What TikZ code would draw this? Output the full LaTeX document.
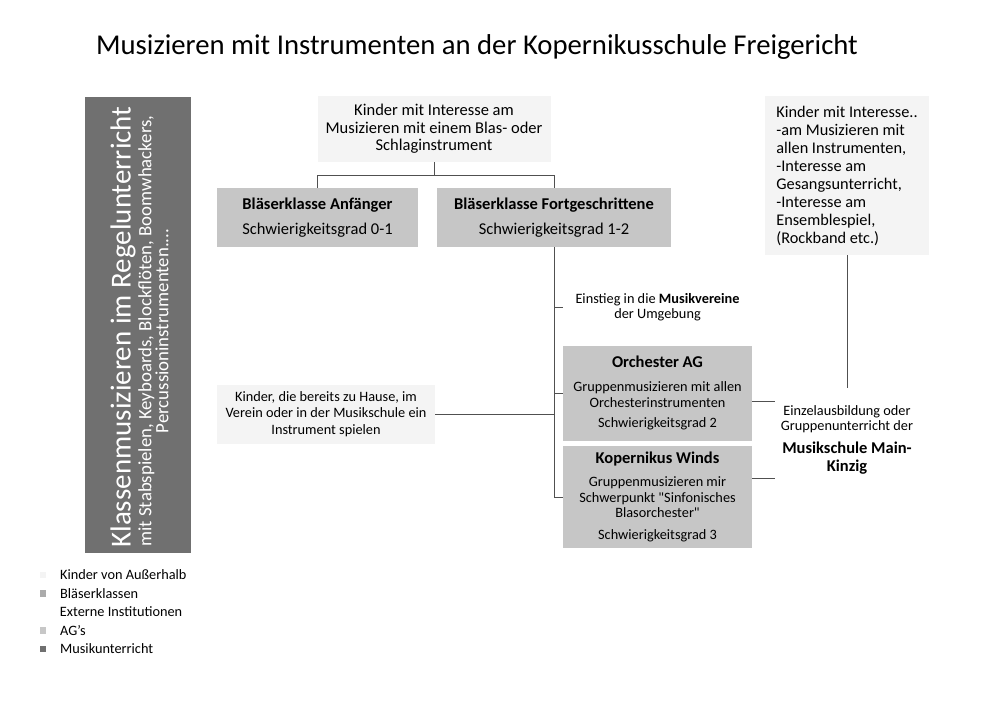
\documentclass[tikz,border=0pt]{standalone}
\usepackage{fontspec}
\setmainfont{Carlito}
\usetikzlibrary{positioning}
\definecolor{boxlight}{HTML}{F4F4F4}
\definecolor{boxgray}{HTML}{C6C6C6}
\definecolor{boxdark}{HTML}{707070}
\definecolor{wiregray}{HTML}{505050}
\newcommand{\titlesize}{\fontsize{28.7}{32}\selectfont}
\newcommand{\headsize}{\fontsize{16.5}{17.5}\selectfont}
\newcommand{\notesize}{\fontsize{14.3}{15.3}\selectfont}

\begin{document}
\begin{tikzpicture}[x=1pt, y=-1pt,
    box/.style={inner sep=2pt, align=center, font=\headsize},
    lightbox/.style={box, fill=boxlight},
    graybox/.style={box, fill=boxgray},
    note/.style={align=center, font=\notesize, inner sep=1pt},
    wire/.style={draw=wiregray, line width=0.8pt},
    legbox/.style={minimum size=6.5pt, inner sep=0pt},
    legtxt/.style={font=\notesize, anchor=west, inner sep=0pt},
  ]
  \useasboundingbox (0,0) rectangle (1000,706);
  \node[font=\titlesize] (title) at (477,47) {Musizieren mit Instrumenten an der Kopernikusschule Freigericht};

  \node[fill=boxdark, minimum width=106, minimum height=455] (klasse) at (138,325) {};
  \node[rotate=90, text=white, font=\fontsize{29}{32}\selectfont] (klassetitle) at (123,327) {Klassenmusizieren im Regelunterricht};
  \node[rotate=90, text=white, align=center, font=\fontsize{18.8}{17}\selectfont] (klassesub) at (153.5,331) {mit Stabspielen, Keyboards, Blockflöten, Boomwhackers,\\Percussioninstrumenten....};

  \node[lightbox, minimum width=233, minimum height=66] (kinder) at (434,129) {Kinder mit Interesse am\\Musizieren mit einem Blas- oder\\Schlaginstrument};
  \node[graybox, minimum width=201, minimum height=59] (anf) at (317.5,217.5) {\textbf{Bläserklasse Anfänger}\\[7pt]Schwierigkeitsgrad 0-1};
  \node[graybox, minimum width=234, minimum height=59] (fort) at (554,217.5) {\textbf{Bläserklasse Fortgeschrittene}\\[7pt]Schwierigkeitsgrad 1-2};

  \node[note, minimum width=189] (einstieg) at (657.5,307) {Einstieg in die \textbf{Musikvereine}\\der Umgebung};
  \node[graybox, font=\notesize, minimum width=189, minimum height=95] (orch) at (657.5,393) {{\headsize\bfseries Orchester AG}\\[9pt]Gruppenmusizieren mit allen\\Orchesterinstrumenten\\[5pt]Schwierigkeitsgrad 2};
  \node[graybox, font=\notesize, minimum width=189, minimum height=102] (winds) at (657.5,497) {{\headsize\bfseries Kopernikus Winds}\\[8pt]Gruppenmusizieren mir\\Schwerpunkt \textquotedbl Sinfonisches\\Blasorchester\textquotedbl\\[7pt]Schwierigkeitsgrad 3};

  \node[lightbox, font=\notesize, minimum width=218, minimum height=59] (haus) at (326,414) {Kinder, die bereits zu Hause, im\\[1pt]Verein oder in der Musikschule ein\\[1pt]Instrument spielen};

  \node[lightbox, align=left, font=\fontsize{16.3}{18}\selectfont, minimum width=164, minimum height=159] (rkinder) at (847,175.5) {Kinder mit Interesse..\\-am Musizieren mit\\allen Instrumenten,\\-Interesse am\\Gesangsunterricht,\\-Interesse am\\Ensemblespiel,\\(Rockband etc.)};
  \node[note] (musik) at (847,440) {Einzelausbildung oder\\Gruppenunterricht der\\[7pt]{\headsize\bfseries Musikschule Main-}\\[3pt]{\headsize\bfseries Kinzig}};

  \draw[wire] (kinder.south) -- ++(0,13) -| (anf.north);
  \draw[wire] (kinder.south) -- ++(0,13) -| (fort.north);
  \draw[wire] (fort.south) |- (winds.west);
  \draw[wire] (einstieg.west) -- (einstieg.west -| fort.south);
  \draw[wire] (orch.west) -- (orch.west -| fort.south);
  \draw[wire] (haus.east) -- (haus.east -| fort.south);
  \coordinate (msend) at (775,0);
  \draw[wire] (orch.-5) -- (orch.-5 -| msend);
  \draw[wire] (winds.11) -- (winds.11 -| msend);
  \draw[wire] (rkinder.south) -- ([yshift=16pt]musik.north);

  \node[legbox, fill=boxlight] (sq1) at (43,575) {};
  \node[legtxt, right=13.5pt of sq1] (lg1) {Kinder von Außerhalb};
  \node[legbox, fill=black!33] (sq2) at (43,593.5) {};
  \node[legtxt, right=13.5pt of sq2] (lg2) {Bläserklassen};
  \node[legtxt] (lg3) at (59.75,612) {Externe Institutionen};
  \node[legbox, fill=black!22] (sq4) at (43,630.5) {};
  \node[legtxt, right=13.5pt of sq4] (lg4) {AG’s};
  \node[legbox, fill=boxdark] (sq5) at (43,649) {};
  \node[legtxt, right=13.5pt of sq5] (lg5) {Musikunterricht};
\end{tikzpicture}
\end{document}
